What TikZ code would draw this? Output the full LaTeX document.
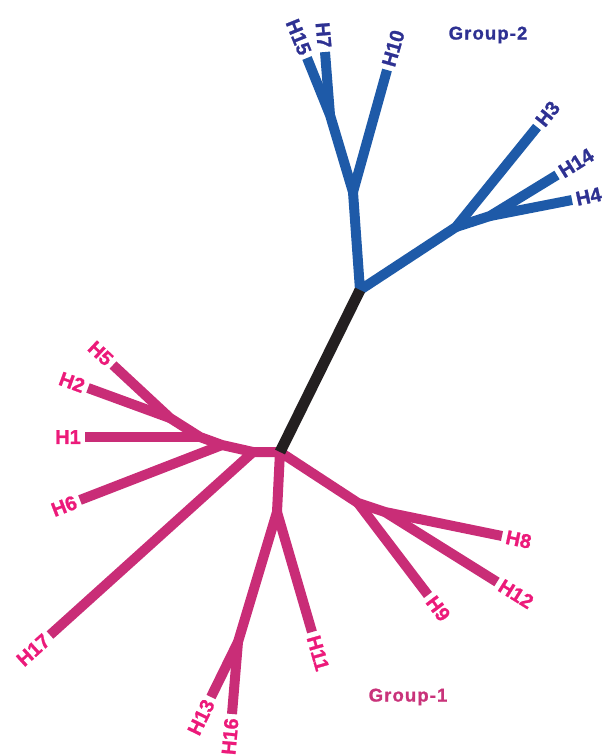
\documentclass[tikz,border=0pt]{standalone}
\usepackage{fontspec}
\setmainfont{Liberation Sans}
\newfontfamily\leaffont[FakeBold=1.2]{Liberation Sans}
\newfontfamily\grpfont[LetterSpace=6, FakeBold=1]{Liberation Sans}
\definecolor{treeblue}{HTML}{1E5AA8}
\definecolor{labblue}{HTML}{2E3192}
\definecolor{treepink}{HTML}{C92D77}
\definecolor{labpink}{HTML}{EC1A7A}
\definecolor{grouppink}{HTML}{C9337A}
\definecolor{treeblack}{HTML}{231F20}
\tikzset{
  branch/.style={line width=10pt, line cap=butt, line join=miter},
  leaf/.style={font=\leaffont\bfseries\fontsize{20}{20}\selectfont, inner sep=4pt},
  group/.style={font=\grpfont\bfseries\fontsize{18.5}{18.5}\selectfont, inner sep=0pt},
}
\begin{document}
\begin{tikzpicture}[x=1pt, y=-1pt]
    \useasboundingbox (0,0) rectangle (606,756);
    % inner points of the tree
    \coordinate (r1) at (280,452);
    \coordinate (r2) at (360,290);
    \coordinate (b2) at (353,192);
    \coordinate (b3) at (330,115);
    \coordinate (b4) at (456,227);
    \coordinate (b5) at (490,216);
    \coordinate (p1) at (253,452);
    \coordinate (p2) at (222,445);
    \coordinate (p3) at (200,437);
    \coordinate (p4) at (170,418);
    \coordinate (p5) at (277,512);
    \coordinate (p6) at (238,642);
    \coordinate (p7) at (358,503);
    \coordinate (p8) at (385,512);
    % leaf ends
    \coordinate (h15) at (307,58);
    \coordinate (h7) at (325,52);
    \coordinate (h10) at (387,70);
    \coordinate (h3) at (537,127);
    \coordinate (h14) at (557,175);
    \coordinate (h4) at (572,200);
    \coordinate (h5) at (113,365);
    \coordinate (h2) at (88,388);
    \coordinate (h1) at (85,437);
    \coordinate (h6) at (80,500);
    \coordinate (h17) at (50,635);
    \coordinate (h13) at (211,697);
    \coordinate (h16) at (232,714);
    \coordinate (h11) at (312,632);
    \coordinate (h9) at (428,595);
    \coordinate (h12) at (497,582);
    \coordinate (h8) at (502,536);

    % group 2
    \draw[branch, treeblue] (h15) -- (b3) -- (b2) -- (r2) -- (b4) -- (h3);
    \draw[branch, treeblue] (h7) -- (b3);
    \draw[branch, treeblue] (h10) -- (b2);
    \draw[branch, treeblue] (h14) -- (b5) -- (b4);
    \draw[branch, treeblue] (h4) -- (b5);
    % group 1
    \draw[branch, treepink] (h5) -- (p4) -- (p3) -- (p2) -- (p1) -- (r1) -- (p7) -- (p8) -- (h8);
    \draw[branch, treepink] (h2) -- (p4);
    \draw[branch, treepink] (h1) -- (p3);
    \draw[branch, treepink] (h6) -- (p2);
    \draw[branch, treepink] (h17) -- (p1);
    \draw[branch, treepink] (r1) -- (p5) -- (p6) -- (h16);
    \draw[branch, treepink] (h13) -- (p6);
    \draw[branch, treepink] (h11) -- (p5);
    \draw[branch, treepink] (h9) -- (p7);
    \draw[branch, treepink] (h12) -- (p8);
    % root
    \draw[branch, treeblack, line width=11pt] (r1) -- (r2);

    \node[leaf, labblue, rotate=-68, anchor=east] (t15) at (h15) {H15};
    \node[leaf, labblue, rotate=-85, anchor=east] (t7) at (h7) {H7};
    \node[leaf, labblue, rotate=74, anchor=west] (t10) at (h10) {H10};
    \node[leaf, labblue, rotate=51, anchor=west] (t3) at (h3) {H3};
    \node[leaf, labblue, rotate=32, anchor=west] (t14) at (h14) {H14};
    \node[leaf, labblue, rotate=12, anchor=west] (t4) at (h4) {H4};
    \node[leaf, labpink, rotate=-43, anchor=east] (t5) at (h5) {H5};
    \node[leaf, labpink, rotate=-20, anchor=east] (t2) at (h2) {H2};
    \node[leaf, labpink, anchor=east] (t1) at (h1) {H1};
    \node[leaf, labpink, rotate=21, anchor=east] (t6) at (h6) {H6};
    \node[leaf, labpink, rotate=42, anchor=east] (t17) at (h17) {H17};
    \node[leaf, labpink, rotate=64, anchor=east] (t13) at (h13) {H13};
    \node[leaf, labpink, rotate=85, anchor=east] (t16) at (h16) {H16};
    \node[leaf, labpink, rotate=-74, anchor=west] (t11) at (h11) {H11};
    \node[leaf, labpink, rotate=-53, anchor=west] (t9) at (h9) {H9};
    \node[leaf, labpink, rotate=-32, anchor=west] (t12) at (h12) {H12};
    \node[leaf, labpink, rotate=-12, anchor=west] (t8) at (h8) {H8};

    \node[group, labblue] (g2) at (488,35) {Group-2};
    \node[group, grouppink] (g1) at (408,697) {Group-1};
\end{tikzpicture}
\end{document}
